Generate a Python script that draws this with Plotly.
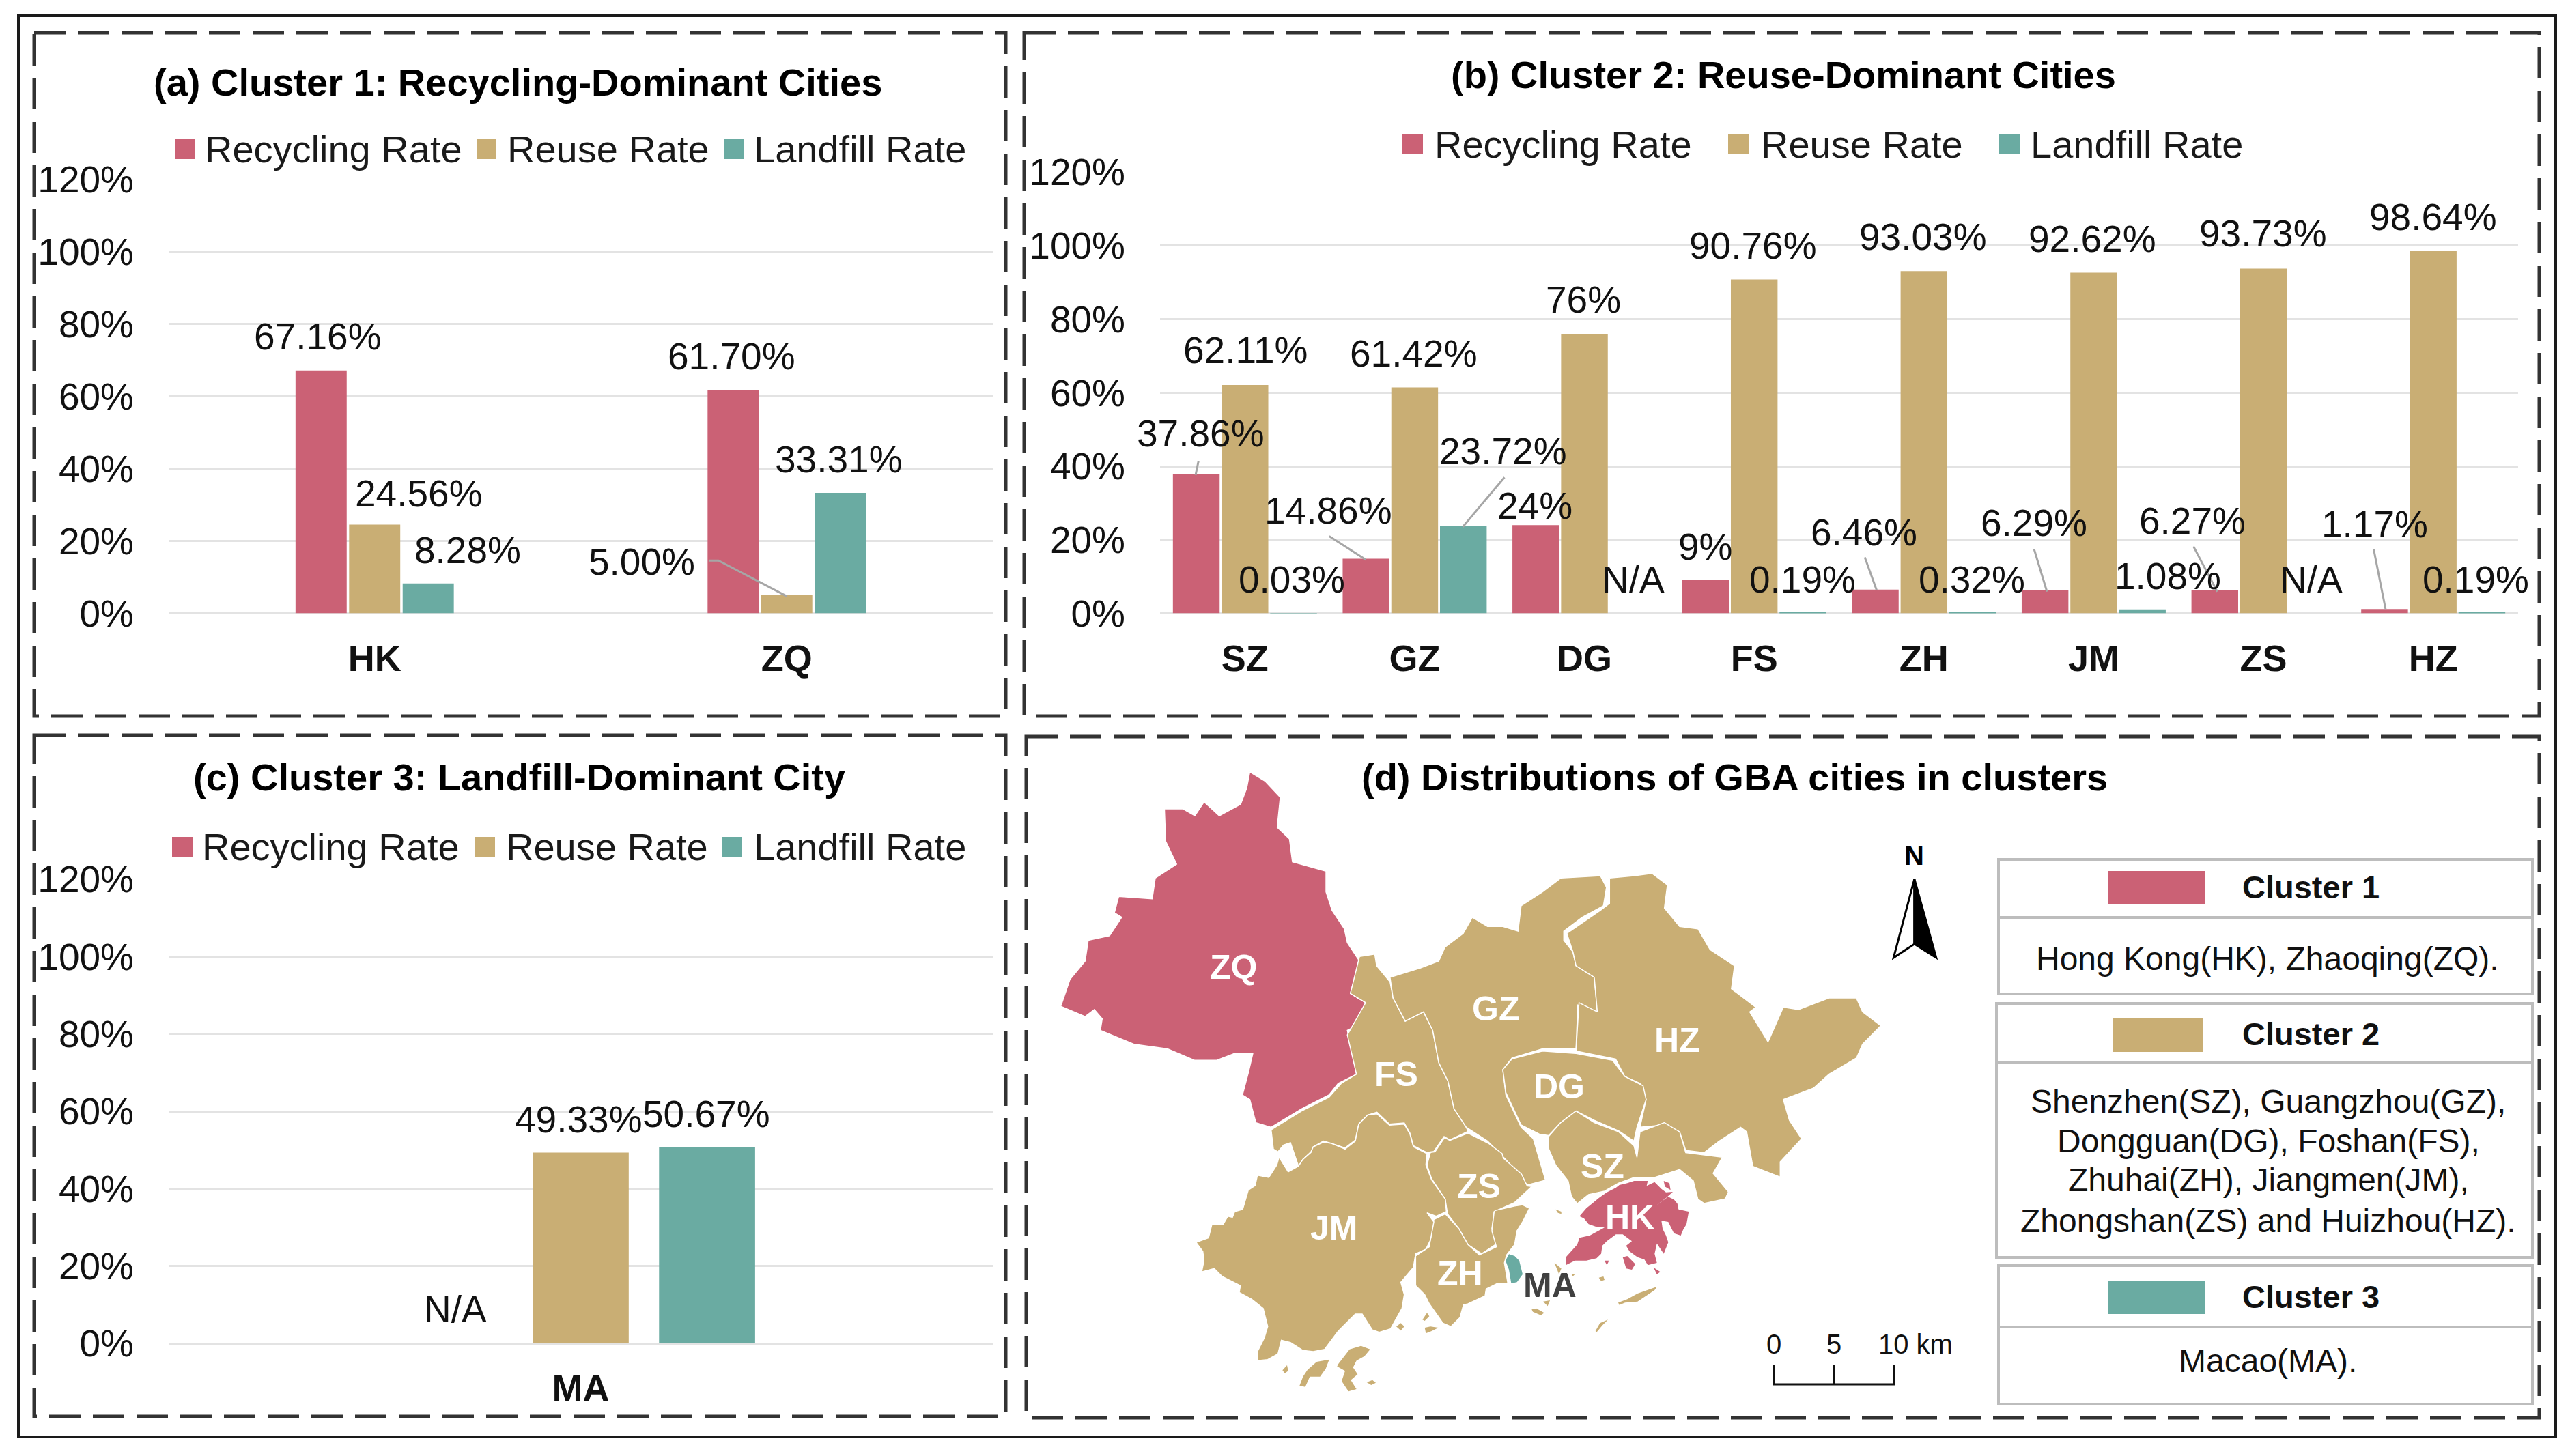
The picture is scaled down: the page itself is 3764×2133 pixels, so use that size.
import plotly.graph_objects as go

W, H = 3764, 2133
RED = "#CB6175"
TAN = "#C9AE74"
TEAL = "#6AABA2"
FONT = "Liberation Sans"
series_names = ["Recycling Rate", "Reuse Rate", "Landfill Rate"]
series_colors = [RED, TAN, TEAL]
y_ticks = [0, 20, 40, 60, 80, 100, 120]
y_labels = ["0%", "20%", "40%", "60%", "80%", "100%", "120%"]

# panel a
cities_a = ["HK", "ZQ"]
recycling_a = [67.16, 61.70]
reuse_a = [24.56, 5.00]
landfill_a = [8.28, 33.31]

# panel b
cities_b = ["SZ", "GZ", "DG", "FS", "ZH", "JM", "ZS", "HZ"]
recycling_b = [37.86, 14.86, 24, 9, 6.46, 6.29, 6.27, 1.17]
reuse_b = [62.11, 61.42, 76, 90.76, 93.03, 92.62, 93.73, 98.64]
landfill_b = [0.03, 23.72, None, 0.19, 0.32, 1.08, None, 0.19]

# panel c
cities_c = ["MA"]
recycling_c = [None]
reuse_c = [49.33]
landfill_c = [50.67]


# helpers to go from crops of the picture to full size pixels
def z1(x, y):
    return x * 0.9566, y * 0.689

def z2(x, y):
    return 1490 + x * 1.45, y * 0.689

def z3(pts):
    return [(1500 + x * 0.893, 1070 + y * 0.676) for x, y in pts]

def z4(x, y):
    return 2700 + x * 0.6786, 1180 + y * 0.606

def z5(x, y):
    return x * 0.9566, 1060 + y * 0.682

def z6(pts):
    return [(2150 + x / 3, 1650 + y / 3) for x, y in pts]

def z7(pts):
    return [(1720 + x / 3, 1600 + y / 3) for x, y in pts]

def px(x):
    return x / W

def py(y):
    return 1 - y / H


fig = go.Figure()

panels = [
    ("", cities_a, recycling_a, reuse_a, landfill_a, (247, 1454), (263, 898.5), 0.61, 0.045),
    ("2", cities_b, recycling_b, reuse_b, landfill_b, (1699, 3688), (252, 898.5), 0.14, 0.04),
    ("3", cities_c, recycling_c, reuse_c, landfill_c, (247, 1454), (1288, 1968), 0.54, 0.24),
]
for suffix, cats, rec, reu, lan, xd, yd, gap, groupgap in panels:
    # bar gaps are per figure in plotly, so each panel sets its own width and offset
    slot = (1 - gap) / 3
    for i, (name, color, vals) in enumerate(zip(series_names, series_colors, (rec, reu, lan))):
        fig.add_trace(go.Bar(x=cats, y=vals, name=name, marker_color=color, marker_line_width=0,
                             xaxis="x" + suffix, yaxis="y" + suffix, showlegend=False,
                             width=slot * (1 - groupgap),
                             offset=slot * (i - 1.5) + slot * groupgap / 2))
    fig.update_layout({
        "xaxis" + suffix: dict(domain=[px(xd[0]), px(xd[1])], anchor="y" + suffix, type="category",
                               showgrid=False, showline=False, ticks="", ticklabelstandoff=29,
                               tickfont=dict(family=FONT, size=54, color="#111111", weight=700)),
        "yaxis" + suffix: dict(domain=[py(yd[1]), py(yd[0])], anchor="x" + suffix, range=[0, 120],
                               tickvals=y_ticks, ticktext=y_labels, showgrid=True, gridcolor="#E3E3E3",
                               gridwidth=3, zeroline=True, zerolinecolor="#E3E3E3", zerolinewidth=3,
                               showline=False, ticks="", ticklabelstandoff=50,
                               tickfont=dict(family=FONT, size=55, color="#111111")),
    })

# map, drawn on an axis pair that spans the whole picture
ZQ = z3([(370, 90), (395, 110), (420, 145), (415, 210), (435, 235), (440, 285), (495, 305), (495, 350),
         (505, 390), (525, 430), (530, 460), (550, 500), (535, 570), (560, 590), (545, 640), (530, 650),
         (545, 745), (515, 765), (500, 790), (455, 820), (405, 860), (380, 850), (370, 800), (358, 790),
         (368, 740), (375, 700), (345, 700), (315, 715), (280, 715), (235, 690), (180, 680), (125, 650),
         (128, 625), (115, 605), (100, 620), (60, 598), (75, 540), (100, 500), (105, 455), (140, 445),
         (160, 405), (148, 395), (155, 360), (210, 365), (215, 320), (250, 290), (232, 240), (230, 170),
         (260, 170), (280, 185), (295, 155), (320, 185), (355, 160), (365, 125)])
FS = z3([(550, 490), (575, 485), (578, 510), (600, 545), (605, 580), (625, 630), (655, 610), (670, 650),
         (680, 720), (695, 760), (705, 820), (725, 860)]) + \
     z7([(1290, 172), (1210, 210), (1185, 195), (1140, 260), (1110, 265), (1050, 235), (1035, 180),
         (1010, 135), (945, 140), (890, 88), (850, 100), (810, 140), (795, 210), (750, 245), (690, 225),
         (655, 215), (610, 240), (600, 262), (565, 295), (545, 325), (510, 222), (480, 232), (455, 262),
         (435, 250), (425, 165)]) + \
     z3([(455, 825), (500, 795), (520, 765), (545, 745), (530, 660), (560, 590), (535, 570)])
GZ = z3([(600, 535), (650, 515), (680, 500), (690, 470), (720, 440), (735, 405), (760, 425), (785, 425),
         (810, 435), (815, 380), (850, 350), (880, 320), (945, 315), (955, 340), (950, 380), (915, 405),
         (885, 435), (885, 455), (900, 480), (905, 510), (935, 535), (940, 610), (908, 595), (905, 690),
         (850, 690), (800, 710), (785, 735), (790, 790), (815, 860), (835, 885), (855, 975), (825, 985),
         (790, 930), (760, 890), (725, 860), (705, 820), (695, 760), (680, 720), (670, 650), (655, 610),
         (625, 630), (605, 580)])
HZ = z3([(960, 320), (1000, 315), (1030, 310), (1055, 335), (1050, 385), (1075, 425), (1105, 430),
         (1125, 475), (1165, 510), (1160, 560), (1200, 600), (1190, 610), (1220, 675), (1245, 600),
         (1270, 605), (1320, 580), (1365, 580), (1375, 610), (1405, 640), (1375, 680), (1365, 710),
         (1320, 745), (1295, 775), (1245, 800), (1255, 845), (1275, 885), (1240, 935), (1240, 968),
         (1195, 945), (1185, 870), (1175, 860), (1140, 890), (1115, 915), (1085, 910), (1075, 870),
         (1050, 855), (1010, 860), (1020, 800), (1010, 765), (985, 750), (970, 712), (905, 695),
         (910, 590), (940, 610), (935, 535), (905, 510), (900, 480), (890, 440), (945, 390), (960, 375)])
DG = z3([(850, 695), (905, 700), (965, 715), (985, 750), (1015, 770), (1020, 800), (1005, 860),
         (1000, 890), (975, 868), (935, 845), (905, 825), (880, 850), (860, 878), (845, 875),
         (815, 855), (790, 785), (785, 735), (800, 712)])
SZ = z3([(860, 880), (880, 850), (905, 825), (935, 850), (975, 870), (1000, 900), (1005, 925),
         (1010, 870), (1050, 850), (1075, 870), (1085, 915), (1145, 925), (1130, 960), (1155, 1000),
         (1150, 1015), (1115, 1025)]) + \
     z6([(1010, 320), (990, 240), (930, 190), (820, 225), (730, 225), (660, 250), (600, 285), (530, 300),
         (480, 340), (455, 310), (440, 240), (385, 170), (355, 100)])
ZS = z7([(1110, 320), (1125, 265), (1145, 262), (1187, 200), (1210, 212), (1290, 180), (1380, 225),
         (1440, 270)]) + \
     z6([(155, 140), (235, 210), (260, 262), (280, 265), (205, 335), (115, 375), (105, 450), (128, 515),
         (60, 560), (0, 520)]) + \
     z7([(1250, 600), (1200, 535), (1190, 470), (1130, 380)])
ZH = z7([(1140, 560), (1190, 535), (1250, 600), (1290, 670), (1340, 715), (1415, 680), (1395, 610),
         (1405, 525)]) + \
     z6([(120, 370), (205, 350), (240, 345), (270, 360), (240, 420), (215, 460), (205, 520), (170, 565),
         (160, 600), (175, 690), (130, 690), (80, 715), (75, 745), (0, 780)]) + \
     z7([(1270, 935), (1255, 990), (1215, 1030), (1180, 1015), (1120, 930), (1100, 890), (1060, 850),
         (1060, 720), (1120, 680)])
JM = z7([(890, 95), (945, 145), (1010, 140), (1035, 185), (1050, 240), (1110, 270), (1105, 320),
         (1130, 385), (1190, 470), (1195, 525), (1150, 545), (1110, 530), (1140, 570), (1125, 650),
         (1105, 690), (1060, 710), (1050, 770), (995, 835), (1010, 890), (1000, 950), (950, 1040),
         (900, 1055), (870, 1045), (825, 975), (795, 975), (720, 1050), (660, 1130), (610, 1140),
         (565, 1135), (510, 1100), (470, 1090), (455, 1150), (410, 1175), (365, 1180), (365, 1140),
         (395, 1080), (410, 1030), (390, 950), (340, 910), (285, 880), (290, 850), (210, 810), (175, 775),
         (120, 790), (130, 740), (125, 700), (95, 660), (150, 640), (165, 580), (215, 580), (235, 545),
         (255, 550), (265, 525), (300, 515), (325, 430), (355, 410), (365, 365), (415, 375), (450, 320),
         (460, 285), (500, 350), (545, 325), (565, 295), (600, 265), (610, 240), (655, 220), (690, 225),
         (750, 250), (795, 215), (810, 140), (850, 100)])
HK = z6([(490, 395), (520, 360), (545, 340), (575, 315), (610, 290), (650, 270), (665, 258), (700, 250),
         (730, 240), (790, 240), (785, 262), (820, 245), (850, 275), (870, 290), (900, 288), (870, 315),
         (830, 345), (880, 310), (905, 322), (920, 340), (925, 365), (970, 375), (960, 430), (945, 455),
         (935, 480), (905, 470), (880, 420), (850, 415), (855, 450), (870, 480), (880, 510), (860, 560),
         (830, 515), (820, 560), (830, 600), (790, 610), (775, 585), (745, 575), (710, 550), (695, 525),
         (720, 505), (680, 475), (650, 475), (610, 505), (590, 525), (585, 560), (565, 580), (520, 590),
         (470, 590), (430, 610), (430, 575), (480, 520), (490, 490), (535, 480), (600, 445), (560, 440),
         (530, 430), (510, 405)])
MA = z6([(165, 590), (180, 562), (205, 570), (225, 590), (240, 650), (215, 685), (190, 690), (180, 630)])

tan_islands = [
    z7([(720, 1195), (770, 1130), (820, 1115), (860, 1130), (835, 1160), (800, 1180), (785, 1210),
        (805, 1240), (775, 1265), (800, 1305), (765, 1315), (735, 1270), (750, 1225), (715, 1205)]),
    z7([(585, 1220), (625, 1185), (680, 1175), (665, 1215), (640, 1250), (595, 1250), (575, 1295),
        (550, 1290), (565, 1250)]),
    z7([(475, 1222), (495, 1200), (500, 1225), (485, 1235)]),
    z7([(845, 1275), (870, 1265), (885, 1277), (865, 1287)]),
    z7([(975, 1030), (995, 1015), (1010, 1030), (995, 1048)]),
    z7([(1100, 1035), (1125, 1030), (1160, 1035), (1130, 1050), (1105, 1060)]),
    z7([(1090, 1000), (1110, 970), (1120, 985), (1100, 1005)]),
    z6([(660, 775), (700, 760), (745, 735), (830, 705), (820, 720), (745, 770), (690, 775), (665, 785)]),
    z6([(560, 900), (580, 865), (615, 850), (590, 875), (565, 905)]),
    z6([(280, 805), (300, 800), (335, 820), (320, 830), (285, 815)]),
    z6([(330, 770), (360, 765), (350, 790)]),
    z6([(575, 665), (595, 660), (600, 675), (585, 680)]),
    z6([(385, 365), (410, 375), (410, 385), (395, 380)]),
    z6([(380, 600), (410, 625), (400, 650)]),
    z6([(455, 650), (470, 650), (460, 660)]),
]
red_islands = [
    z6([(680, 575), (700, 570), (735, 605), (720, 630), (695, 625)]),
    z6([(815, 620), (845, 640), (830, 650)]),
    z6([(860, 240), (885, 250), (890, 280), (865, 265)]),
    z6([(600, 590), (620, 590), (610, 610)]),
]

map_parts = [(ZQ, RED, 1.5), (FS, TAN, 1.5), (GZ, TAN, 1.5), (HZ, TAN, 1.5), (DG, TAN, 1.5), (SZ, TAN, 1.5),
             (ZS, TAN, 1.5), (ZH, TAN, 1.5), (JM, TAN, 1.5), (HK, RED, 0), (MA, TEAL, 0)]
map_parts += [(p, TAN, 0) for p in tan_islands] + [(p, RED, 0) for p in red_islands]
for pts, color, lw in map_parts:
    xs = [p[0] for p in pts] + [pts[0][0]]
    ys = [p[1] for p in pts] + [pts[0][1]]
    fig.add_trace(go.Scatter(x=xs, y=ys, mode="lines", fill="toself", fillcolor=color,
                             line=dict(color="white", width=lw), xaxis="x4", yaxis="y4",
                             showlegend=False, hoverinfo="skip"))

fig.update_layout(
    xaxis4=dict(domain=[0, 1], range=[0, W], visible=False, anchor="y4"),
    yaxis4=dict(domain=[0, 1], range=[H, 0], visible=False, anchor="x4"),
)

annots = []
shapes = []

def text(x, y, s, size=55, color="#111111", bold=False, anchor="center"):
    annots.append(dict(xref="paper", yref="paper", x=px(x), y=py(y), text=s, showarrow=False,
                       xanchor=anchor, yanchor="middle",
                       font=dict(family=FONT, size=size, color=color, weight=700 if bold else 400)))

def rect(x0, y0, x1, y1, fill=None, line=None, lw=0, dash=None):
    shapes.append(dict(type="rect", xref="paper", yref="paper", x0=px(x0), x1=px(x1), y0=py(y0), y1=py(y1),
                       fillcolor=fill, line=dict(color=line, width=lw, dash=dash)))

def poly(pts, color="#A6A6A6", lw=3, fill=None):
    d = "M" + " L".join(f"{px(x):.5f},{py(y):.5f}" for x, y in pts)
    if fill:
        d += " Z"
    shapes.append(dict(type="path", xref="paper", yref="paper", path=d, fillcolor=fill,
                       line=dict(color=color, width=lw)))


# frames
rect(27, 23, 3743, 2105, line="#1A1A1A", lw=4)
dash = "46px,18px"
rect(50, 48, 1473, 1049, line="#333333", lw=5, dash=dash)
rect(1500, 48, 3719, 1049, line="#333333", lw=5, dash=dash)
rect(50, 1077, 1473, 2075, line="#333333", lw=5, dash=dash)
rect(1503, 1079, 3719, 2077, line="#333333", lw=5, dash=dash)

# titles
text(758, 121, "(a) Cluster 1: Recycling-Dominant Cities", 56, "#000000", True)
text(2612, 110, "(b) Cluster 2: Reuse-Dominant Cities", 56, "#000000", True)
text(760, 1138, "(c) Cluster 3: Landfill-Dominant City", 56, "#000000", True)
text(2540, 1138, "(d) Distributions of GBA cities in clusters", 56, "#000000", True)

# small legends
legend_rows = [
    (218, 29, [(256, 298), (698, 741), (1060, 1102)]),
    (211, 30, [(2054, 2099), (2531, 2577), (2928, 2972)]),
    (1240, 30, [(252, 294), (695, 739), (1057, 1102)]),
]
for yc, size, slots in legend_rows:
    for (sx, tx), name, color in zip(slots, series_names, series_colors):
        rect(sx, yc - 14, sx + size, yc + 15, fill=color)
        text(tx, yc, name, 56, "#1A1A1A", anchor="left")

# data labels
labels_a = [("67.16%", 487, 716), ("24.56%", 641, 1050), ("8.28%", 716, 1170),
            ("61.70%", 1120, 758), ("5.00%", 983, 1195), ("33.31%", 1284, 977)]
for s, x, y in labels_a:
    text(*z1(x, y), s)
labels_b = [("62.11%", 230, 745), ("61.42%", 400, 752), ("76%", 572, 637), ("90.76%", 743, 522),
            ("93.03%", 915, 503), ("92.62%", 1086, 508), ("93.73%", 1258, 497), ("98.64%", 1430, 462),
            ("37.86%", 185, 922), ("14.86%", 314, 1085), ("0.03%", 277, 1232), ("23.72%", 491, 960),
            ("24%", 523, 1075), ("N/A", 622, 1232), ("9%", 695, 1162), ("0.19%", 793, 1232),
            ("6.46%", 855, 1132), ("0.32%", 964, 1232), ("6.29%", 1027, 1112), ("1.08%", 1162, 1225),
            ("6.27%", 1187, 1108), ("N/A", 1307, 1232), ("1.17%", 1371, 1115), ("0.19%", 1473, 1232)]
for s, x, y in labels_b:
    text(*z2(x, y), s)
labels_c = [("N/A", 697, 1258), ("49.33%", 886, 850), ("50.67%", 1081, 838)]
for s, x, y in labels_c:
    text(*z5(x, y), s)

# leader lines
poly([z1(1085, 1192), z1(1100, 1192), z1(1205, 1268)])
for a, b in [((183, 980), (180, 1010)), ((315, 1140), (352, 1190)), ((492, 1015), (450, 1120)),
             ((856, 1185), (868, 1255)), ((1027, 1168), (1040, 1258)), ((1188, 1162), (1212, 1258)),
             ((1370, 1168), (1382, 1295))]:
    poly([z2(*a), z2(*b)])

# city names on the map
city_names = [("ZQ", 343, 513), ("FS", 610, 745), ("GZ", 773, 603), ("HZ", 1071, 672), ("DG", 877, 772),
              ("SZ", 948, 945), ("HK", 993, 1055), ("ZS", 746, 988), ("JM", 508, 1078), ("ZH", 715, 1178)]
for s, x, y in city_names:
    text(*z3([(x, y)])[0], s, 50, "white", True)
text(*z3([(862, 1203)])[0], "MA", 50, "#404040", True)

# north arrow
text(*z4(153, 120), "N", 40, "#000000", True)
poly([z4(153, 178), z4(108, 368), z4(153, 335)], "#000000", 3, "white")
poly([z4(153, 178), z4(200, 368), z4(153, 335)], "#000000", 3, "#000000")

# scale bar
text(*z3([(1230, 1330)])[0], "0", 40)
text(*z3([(1328, 1330)])[0], "5", 40)
text(*z3([(1462, 1330)])[0], "10 km", 40)
poly(z3([(1230, 1375), (1230, 1417), (1427, 1417), (1427, 1375)]), "#111111", 3)
poly(z3([(1328, 1375), (1328, 1417)]), "#111111", 3)

# cluster table
GR = "#BDBDBD"
rect(2927, 1259, 3709, 1456, line=GR, lw=4)
poly([(2927, 1344), (3709, 1344)], GR, 4)
rect(2924, 1470, 3709, 1842, line=GR, lw=4)
poly([(2924, 1557), (3709, 1557)], GR, 4)
rect(2927, 1854, 3709, 2057, line=GR, lw=4)
poly([(2927, 1944), (3709, 1944)], GR, 4)
rect(3088, 1276, 3229, 1325, fill=RED)
rect(3094, 1491, 3226, 1541, fill=TAN)
rect(3088, 1877, 3229, 1925, fill=TEAL)
text(3282, 1299, "Cluster 1", 47, "#111111", True, "left")
text(3282, 1514, "Cluster 2", 47, "#111111", True, "left")
text(3282, 1899, "Cluster 3", 47, "#111111", True, "left")
text(3321, 1404, "Hong Kong(HK), Zhaoqing(ZQ).", 48)
text(3322, 1613, "Shenzhen(SZ), Guangzhou(GZ),", 48)
text(3322, 1671, "Dongguan(DG), Foshan(FS),", 48)
text(3322, 1728, "Zhuhai(ZH), Jiangmen(JM),", 48)
text(3322, 1788, "Zhongshan(ZS) and Huizhou(HZ).", 48)
text(3321, 1993, "Macao(MA).", 48)

fig.update_layout(
    width=W, height=H, margin=dict(l=0, r=0, t=0, b=0, autoexpand=False), autosize=False,
    paper_bgcolor="white", plot_bgcolor="rgba(0,0,0,0)",
    barmode="overlay", showlegend=False,
    annotations=annots, shapes=shapes,
)

fig.write_html("out.html", config={"displayModeBar": False},
               post_script="document.body.style.margin='0';")
